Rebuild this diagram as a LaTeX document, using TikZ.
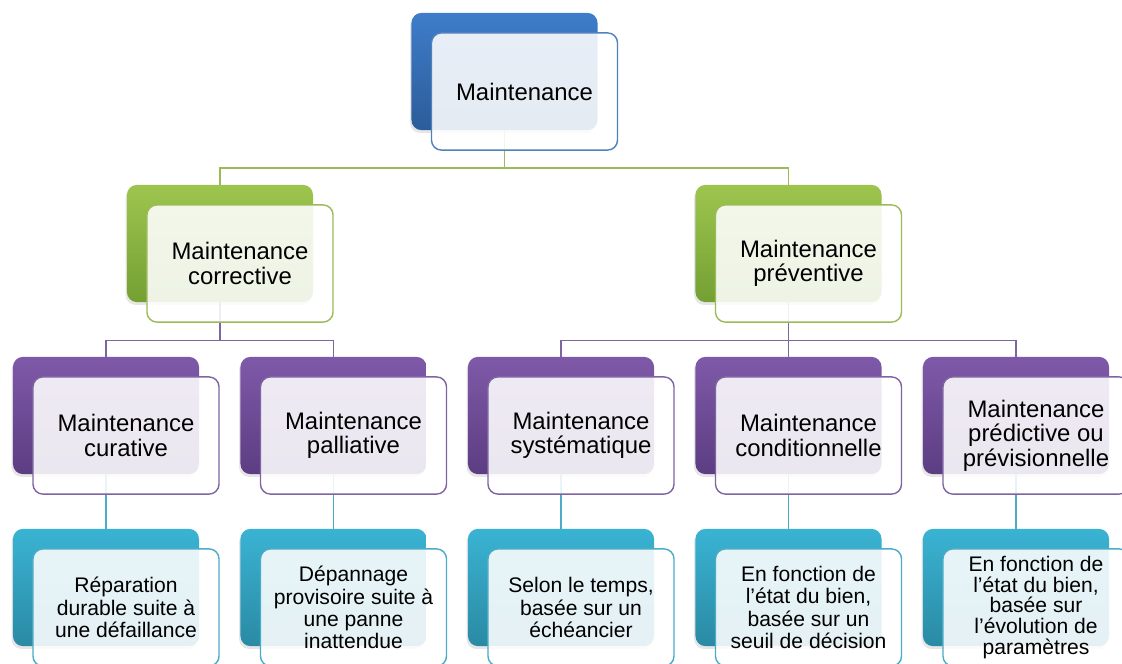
\documentclass[tikz,border=0pt]{standalone}
\usepackage{fontspec}
\setmainfont{Liberation Sans}
\usetikzlibrary{shadows}
\definecolor{bluetop}{HTML}{3E7DCA}\definecolor{bluebot}{HTML}{2C5C99}\definecolor{blueline}{HTML}{4F81BD}
\definecolor{greentop}{HTML}{9DC54E}\definecolor{greenbot}{HTML}{74A033}\definecolor{greenline}{HTML}{9BBB59}
\definecolor{purptop}{HTML}{7F59A9}\definecolor{purpbot}{HTML}{5C3D82}\definecolor{purpline}{HTML}{8064A2}
\definecolor{tealtop}{HTML}{3AB3D3}\definecolor{tealbot}{HTML}{2A8AA4}\definecolor{tealline}{HTML}{4BACC6}

\begin{document}
\begin{tikzpicture}[x=0.025cm,y=-0.025cm,
  back/.style 2 args={rounded corners=0.25cm,minimum width=4.65cm,minimum height=2.93cm,
    inner sep=0pt,top color=#1,bottom color=#2,
    drop shadow={opacity=0.2,shadow xshift=-1pt,shadow yshift=-2pt}},
  front/.style={rounded corners=0.25cm,minimum width=4.65cm,minimum height=2.93cm,
    inner sep=0pt,draw=#1,line width=1pt,fill=white,fill opacity=0.88,text opacity=1,align=center},
  link/.style={draw=#1,line width=1.1pt},
  txtbig/.style={font=\fontsize{17}{17.5}\selectfont},
  txtsmall/.style={font=\fontsize{15}{15.8}\selectfont}]
  \useasboundingbox (0,0) rectangle (1122,663);
  \clip (0,0) rectangle (1122,663);
  % back boxes
  \node[back={bluetop}{bluebot}] (b0) at (504.5,71.5) {};
  \node[back={greentop}{greenbot}] (g1) at (220,243.5) {};
  \node[back={greentop}{greenbot}] (g2) at (788.5,243.5) {};
  \node[back={purptop}{purpbot}] (p1) at (106,415.5) {};
  \node[back={purptop}{purpbot}] (p2) at (333.5,415.5) {};
  \node[back={purptop}{purpbot}] (p3) at (561,415.5) {};
  \node[back={purptop}{purpbot}] (p4) at (788.5,415.5) {};
  \node[back={purptop}{purpbot}] (p5) at (1016,415.5) {};
  \node[back={tealtop}{tealbot}] (t1) at (106,587.5) {};
  \node[back={tealtop}{tealbot}] (t2) at (333.5,587.5) {};
  \node[back={tealtop}{tealbot}] (t3) at (561,587.5) {};
  \node[back={tealtop}{tealbot}] (t4) at (788.5,587.5) {};
  \node[back={tealtop}{tealbot}] (t5) at (1016,587.5) {};
  % connectors
  \draw[link=greenline] (b0.south) -- ++(0,37.5) -| (g1.north);
  \draw[link=greenline] (b0.south) -- ++(0,37.5) -| (g2.north);
  \draw[link=purpline] (g1.south) -- ++(0,38) -| (p1.north);
  \draw[link=purpline] (g1.south) -- ++(0,38) -| (p2.north);
  \draw[link=purpline] (g2.south) -- ++(0,38) -| (p3.north);
  \draw[link=purpline] (g2.south) -- ++(0,38) -| (p4.north);
  \draw[link=purpline] (g2.south) -- ++(0,38) -| (p5.north);
  \draw[link=tealline] (p1.south) -- (t1.north);
  \draw[link=tealline] (p2.south) -- (t2.north);
  \draw[link=tealline] (p3.south) -- (t3.north);
  \draw[link=tealline] (p4.south) -- (t4.north);
  \draw[link=tealline] (p5.south) -- (t5.north);
  % front boxes with the texts
  \node[front=blueline,txtbig] (f0) at ([shift={(20,20)}]b0.center) {Maintenance};
  \node[front=greenline,txtbig] (fg1) at ([shift={(20,20)}]g1.center) {Maintenance\\corrective};
  \node[front=greenline,txtbig] (fg2) at ([shift={(20,20)}]g2.center) {Maintenance\\préventive};
  \node[front=purpline,txtbig] (fp1) at ([shift={(20,20)}]p1.center) {Maintenance\\curative};
  \node[front=purpline,txtbig] (fp2) at ([shift={(20,20)}]p2.center) {Maintenance\\palliative};
  \node[front=purpline,txtbig] (fp3) at ([shift={(20,20)}]p3.center) {Maintenance\\systématique};
  \node[front=purpline,txtbig] (fp4) at ([shift={(20,20)}]p4.center) {Maintenance\\conditionnelle};
  \node[front=purpline,txtbig] (fp5) at ([shift={(20,20)}]p5.center) {Maintenance\\prédictive ou\\prévisionnelle};
  \node[front=tealline,txtsmall] (ft1) at ([shift={(20,20)}]t1.center) {Réparation\\durable suite à\\une défaillance};
  \node[front=tealline,txtsmall] (ft2) at ([shift={(20,20)}]t2.center) {Dépannage\\provisoire suite à\\une panne\\inattendue};
  \node[front=tealline,txtsmall] (ft3) at ([shift={(20,20)}]t3.center) {Selon le temps,\\basée sur un\\échéancier};
  \node[front=tealline,txtsmall] (ft4) at ([shift={(20,20)}]t4.center) {En fonction de\\l’état du bien,\\basée sur un\\seuil de décision};
  \node[front=tealline,txtsmall,font=\fontsize{15}{14.6}\selectfont] (ft5) at ([shift={(20,20)}]t5.center) {En fonction de\\l’état du bien,\\basée sur\\l’évolution de\\paramètres};
\end{tikzpicture}
\end{document}
